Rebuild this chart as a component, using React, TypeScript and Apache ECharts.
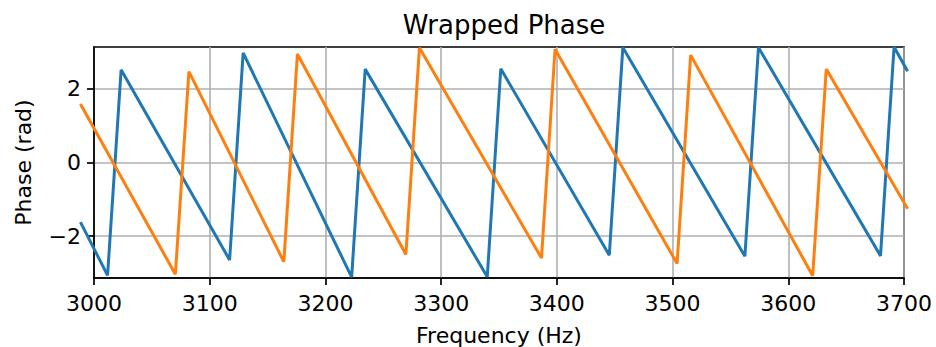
import React, { useEffect, useRef } from "react";
import * as echarts from "echarts";

// Sample frequencies (Hz) at the vertices of each wrapped-phase trace
const blueFreq = [
  2988.28, 3011.72, 3023.44, 3117.19, 3128.91, 3222.66, 3234.38, 3339.84,
  3351.56, 3445.31, 3457.03, 3562.5, 3574.22, 3679.69, 3691.41, 3703.13,
];
// Wrapped phase (rad) of the first trace
const bluePhase = [
  -1.62, -3.07, 2.52, -2.65, 2.98, -3.12, 2.54, -3.11,
  2.55, -2.52, 3.13, -2.55, 3.13, -2.54, 3.14, 2.48,
];

const orangeFreq = [
  2988.28, 3070.31, 3082.03, 3164.06, 3175.78, 3269.53, 3281.25, 3386.72,
  3398.44, 3503.91, 3515.63, 3621.09, 3632.81, 3703.13,
];
// Wrapped phase (rad) of the second trace
const orangePhase = [
  1.59, -3.04, 2.47, -2.7, 2.95, -2.5, 3.12, -2.6,
  3.08, -2.75, 2.92, -3.08, 2.54, -1.26,
];

const xTicks = [3000, 3100, 3200, 3300, 3400, 3500, 3600, 3700];
const yTicks = [-2, 0, 2];

const FONT = "DejaVu Sans";

// Frame geometry (axes box)
const BOX_LEFT = 94;
const BOX_TOP = 47;
const BOX_W = 810;
const BOX_H = 231;
// The traces run a little past the box on both sides, so they live on an
// invisible, wider x axis that shares the frame's px-per-Hz scale.
const X_MIN = xTicks[0];
const X_MAX = xTicks[xTicks.length - 1];
const PAD_HZ = 20;
const PX_PER_HZ = BOX_W / (X_MAX - X_MIN);

const pairs = (xs: number[], ys: number[]) => xs.map((x, i) => [x, ys[i]]);

export default function App() {
  const ref = useRef<HTMLDivElement>(null);

  useEffect(() => {
    if (!ref.current) return;
    const chart = echarts.init(ref.current, undefined, { renderer: "svg" });
    const minus = (v: number) => (v < 0 ? "\u2212" + Math.abs(v) : String(v));
    const black = { color: "#000", width: 1.7 };

    chart.setOption({
      animation: false,
      backgroundColor: "#ffffff",
      title: {
        text: "Wrapped Phase",
        left: BOX_LEFT + BOX_W / 2,
        top: 7,
        textAlign: "center",
        textStyle: { fontFamily: FONT, fontSize: 26, fontWeight: "normal", color: "#000" },
      },
      grid: [
        {
          left: BOX_LEFT,
          top: BOX_TOP,
          width: BOX_W,
          height: BOX_H,
          outerBoundsMode: "none",
          containLabel: false,
          show: true,
          borderColor: "#000",
          borderWidth: 1.7,
          backgroundColor: "transparent",
        },
        {
          left: BOX_LEFT - PAD_HZ * PX_PER_HZ,
          top: BOX_TOP,
          width: BOX_W + 2 * PAD_HZ * PX_PER_HZ,
          height: BOX_H,
          outerBoundsMode: "none",
          containLabel: false,
        },
      ],
      xAxis: [
        {
          type: "value",
          gridIndex: 0,
          min: X_MIN,
          max: X_MAX,
          interval: 100,
          name: "Frequency (Hz)",
          nameLocation: "middle",
          nameGap: 46,
          nameTextStyle: { fontFamily: FONT, fontSize: 22, color: "#000" },
          axisLine: { show: true, onZero: false, lineStyle: black },
          axisTick: { show: true, length: 7, lineStyle: black },
          axisLabel: {
            margin: 14,
            formatter: (v: number) => String(v),
            fontFamily: FONT,
            fontSize: 22,
            color: "#000",
          },
          splitLine: { show: true, lineStyle: { color: "#b0b0b0", width: 1.6 } },
        },
        {
          type: "value",
          gridIndex: 1,
          min: X_MIN - PAD_HZ,
          max: X_MAX + PAD_HZ,
          show: false,
        },
      ],
      yAxis: [
        {
          type: "value",
          gridIndex: 0,
          min: -Math.PI,
          max: Math.PI,
          name: "Phase (rad)",
          nameLocation: "middle",
          nameRotate: 90,
          nameGap: 60,
          nameTextStyle: { fontFamily: FONT, fontSize: 22, color: "#000" },
          axisLine: { show: true, onZero: false, lineStyle: black },
          axisTick: { show: true, length: 7, customValues: yTicks, lineStyle: black },
          axisLabel: {
            margin: 13,
            customValues: yTicks,
            formatter: (v: number) => minus(v),
            fontFamily: FONT,
            fontSize: 22,
            color: "#000",
          },
          splitLine: { show: true, lineStyle: { color: "#b0b0b0", width: 1.6 } },
        },
        {
          type: "value",
          gridIndex: 1,
          min: -Math.PI,
          max: Math.PI,
          show: false,
          splitLine: { show: false },
        },
      ],
      series: [
        {
          type: "line",
          xAxisIndex: 1,
          yAxisIndex: 1,
          data: pairs(blueFreq, bluePhase),
          showSymbol: false,
          clip: false,
          lineStyle: { color: "#1f77b4", width: 3 },
          itemStyle: { color: "#1f77b4" },
          z: 3,
        },
        {
          type: "line",
          xAxisIndex: 1,
          yAxisIndex: 1,
          data: pairs(orangeFreq, orangePhase),
          showSymbol: false,
          clip: false,
          lineStyle: { color: "#ff7f0e", width: 3 },
          itemStyle: { color: "#ff7f0e" },
          z: 4,
        },
      ],
    });

    return () => chart.dispose();
  }, []);

  return (
    <div
      ref={ref}
      style={{ position: "fixed", left: 0, top: 0, width: 936, height: 347 }}
    />
  );
}
